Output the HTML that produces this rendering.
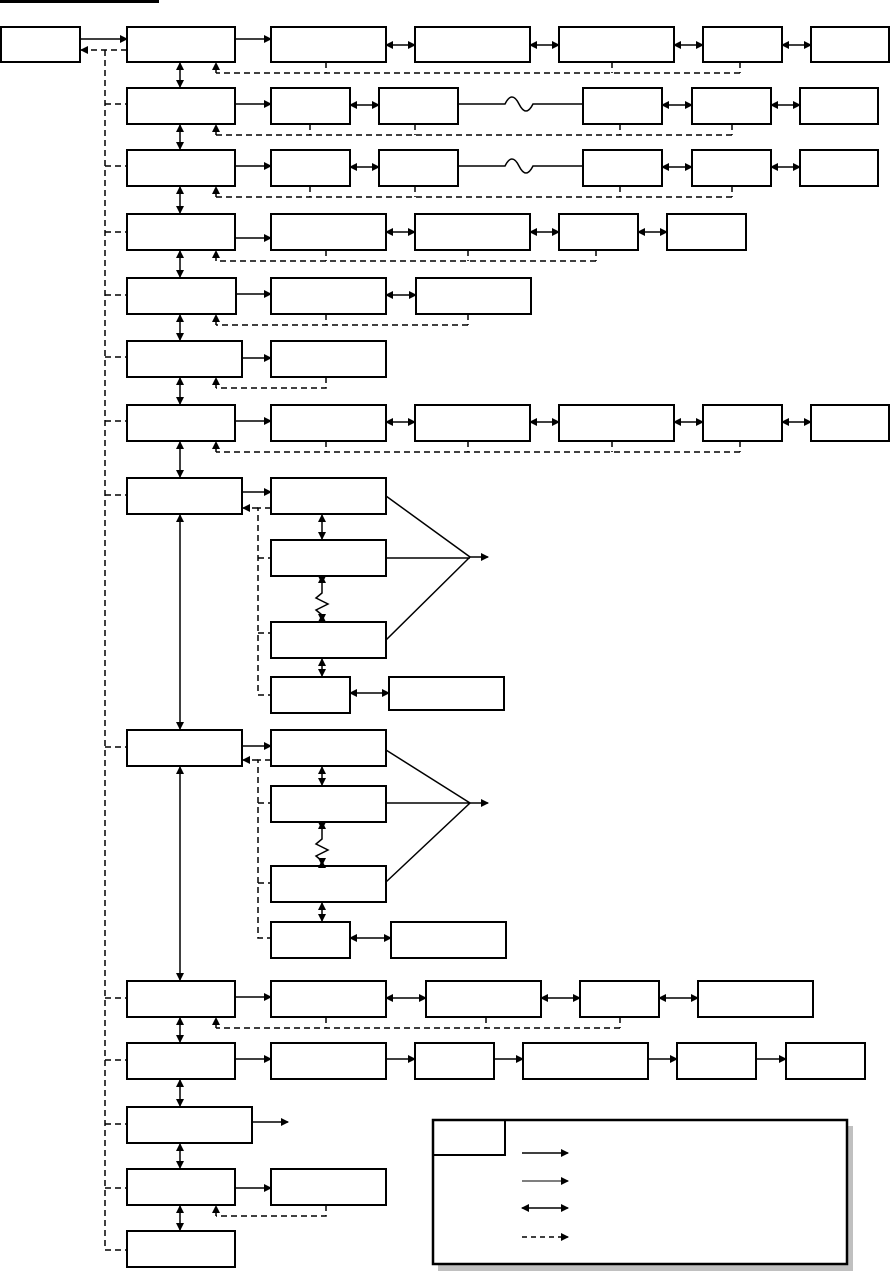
<!DOCTYPE html>
<html><head><meta charset="utf-8"><style>body{margin:0;background:#fff}svg{display:block}</style></head><body>
<svg width="891" height="1271" viewBox="0 0 891 1271" xmlns="http://www.w3.org/2000/svg">
<defs>
<marker id="a" markerWidth="8" markerHeight="8" refX="7" refY="4" orient="auto-start-reverse" markerUnits="userSpaceOnUse"><path d="M0,0 L8,4 L0,8z" fill="#000"/></marker>
</defs>
<rect x="0" y="0" width="159" height="3" fill="#000"/>
<g fill="none" stroke="#000" stroke-width="2">
<rect x="1" y="27" width="79" height="35"/>
<rect x="127" y="27" width="108" height="35"/><rect x="271" y="27" width="115" height="35"/><rect x="415" y="27" width="115" height="35"/><rect x="559" y="27" width="115" height="35"/><rect x="703" y="27" width="79" height="35"/><rect x="811" y="27" width="78" height="35"/>
<rect x="127" y="88" width="108" height="36"/><rect x="271" y="88" width="79" height="36"/><rect x="379" y="88" width="79" height="36"/><rect x="583" y="88" width="79" height="36"/><rect x="692" y="88" width="79" height="36"/><rect x="800" y="88" width="78" height="36"/>
<rect x="127" y="150" width="108" height="36"/><rect x="271" y="150" width="79" height="36"/><rect x="379" y="150" width="79" height="36"/><rect x="583" y="150" width="79" height="36"/><rect x="692" y="150" width="79" height="36"/><rect x="800" y="150" width="78" height="36"/>
<rect x="127" y="214" width="108" height="36"/><rect x="271" y="214" width="115" height="36"/><rect x="415" y="214" width="115" height="36"/><rect x="559" y="214" width="79" height="36"/><rect x="667" y="214" width="79" height="36"/>
<rect x="127" y="278" width="109" height="36"/><rect x="271" y="278" width="115" height="36"/><rect x="416" y="278" width="115" height="36"/>
<rect x="127" y="341" width="115" height="36"/><rect x="271" y="341" width="115" height="36"/>
<rect x="127" y="405" width="108" height="36"/><rect x="271" y="405" width="115" height="36"/><rect x="415" y="405" width="115" height="36"/><rect x="559" y="405" width="115" height="36"/><rect x="703" y="405" width="79" height="36"/><rect x="811" y="405" width="78" height="36"/>
<rect x="127" y="478" width="115" height="36"/><rect x="271" y="478" width="115" height="36"/><rect x="271" y="540" width="115" height="36"/><rect x="271" y="622" width="115" height="36"/><rect x="271" y="677" width="79" height="36"/><rect x="389" y="677" width="115" height="33"/>
<rect x="127" y="730" width="115" height="36"/><rect x="271" y="730" width="115" height="36"/><rect x="271" y="786" width="115" height="36"/><rect x="271" y="866" width="115" height="36"/><rect x="271" y="922" width="79" height="36"/><rect x="391" y="922" width="115" height="36"/>
<rect x="127" y="981" width="108" height="36"/><rect x="271" y="981" width="115" height="36"/><rect x="426" y="981" width="115" height="36"/><rect x="580" y="981" width="79" height="36"/><rect x="698" y="981" width="115" height="36"/>
<rect x="127" y="1043" width="108" height="36"/><rect x="271" y="1043" width="115" height="36"/><rect x="415" y="1043" width="79" height="36"/><rect x="523" y="1043" width="125" height="36"/><rect x="677" y="1043" width="79" height="36"/><rect x="786" y="1043" width="79" height="36"/>
<rect x="127" y="1107" width="125" height="36"/>
<rect x="127" y="1169" width="108" height="36"/><rect x="271" y="1169" width="115" height="36"/>
<rect x="127" y="1231" width="108" height="36"/>
</g>
<g stroke="#000" stroke-width="1.5" fill="none" marker-end="url(#a)">
<path d="M80 39H127"/><path d="M235 39H271"/><path d="M235 104H271"/><path d="M235 166H271"/><path d="M235 238H271"/><path d="M236 294H271"/><path d="M242 358H271"/><path d="M235 421H271"/>
<path d="M242 492H271"/><path d="M242 746H271"/><path d="M235 997H271"/><path d="M235 1059H271"/>
<path d="M386 1059H415"/><path d="M494 1059H523"/><path d="M648 1059H677"/><path d="M756 1059H786"/><path d="M252 1122H288"/><path d="M235 1188H271"/>
<path d="M470 557H488"/><path d="M470 803H488"/>
</g>
<g stroke="#000" stroke-width="1.5" fill="none">
<path d="M386 496L470 557L386 640M386 558H470"/><path d="M386 750L470 803L386 882M386 803H470"/>
<path d="M458 104H505 Q512 90 519 104 Q526 118 533 104 H583"/><path d="M458 166H505 Q512 152 519 166 Q526 180 533 166 H583"/>
<path d="M322 583 L322 593 L316 598 L328 604 L316 610 L322 615 L322 615"/><path d="M322 829 L322 839 L316 844 L328 850 L316 856 L322 861"/>
</g>
<g stroke="#000" stroke-width="1.5" fill="none" marker-start="url(#a)" marker-end="url(#a)">
<path d="M386 45H415"/><path d="M530 45H559"/><path d="M674 45H703"/><path d="M782 45H811"/>
<path d="M350 105H379"/><path d="M662 105H692"/><path d="M771 105H800"/>
<path d="M350 167H379"/><path d="M662 167H692"/><path d="M771 167H800"/>
<path d="M386 232H415"/><path d="M530 232H559"/><path d="M638 232H667"/><path d="M386 295H416"/>
<path d="M386 422H415"/><path d="M530 422H559"/><path d="M674 422H703"/><path d="M782 422H811"/>
<path d="M386 998H426"/><path d="M541 998H580"/><path d="M659 998H698"/>
<path d="M350 693H389"/><path d="M350 938H391"/>
<path d="M180 63V87"/><path d="M180 125V149"/><path d="M180 187V213"/><path d="M180 251V277"/><path d="M180 315V340"/><path d="M180 378V404"/><path d="M180 442V477"/><path d="M180 515V729"/><path d="M180 767V980"/><path d="M180 1018V1042"/><path d="M180 1080V1106"/><path d="M180 1144V1168"/><path d="M180 1206V1230"/>
<path d="M322 515V539"/><path d="M322 576V583"/><path d="M322 615V621"/><path d="M322 659V676"/>
<path d="M322 767V785"/><path d="M322 822V829"/><path d="M322 861V865"/><path d="M322 903V921"/>
</g>
<g stroke="#000" stroke-width="1.5" fill="none" stroke-dasharray="6,4">
<path d="M105 50V1250"/>
<path d="M105 104H127M105 166H127M105 232H127M105 295H127M105 357H127M105 421H127M105 495H127M105 747H127M105 998H127M105 1060H127M105 1124H127M105 1188H127M105 1250H127"/>
<path d="M326 62V73M612 62V73M740 62V73M740 73H216"/>
<path d="M310 124V135M415 124V135M620 124V135M732 124V135M732 135H216"/>
<path d="M310 186V197M415 186V197M620 186V197M732 186V197M732 197H216"/>
<path d="M326 250V261M468 250V261M596 250V261M596 261H216"/>
<path d="M326 314V325M468 314V325M468 325H216"/>
<path d="M326 377V388H216"/>
<path d="M326 441V452M468 441V452M612 441V452M740 441V452M740 452H216"/>
<path d="M326 1017V1028M486 1017V1028M620 1017V1028M620 1028H216"/>
<path d="M326 1205V1216H216"/>
<path d="M271 508H258V695H271M258 558H271M258 633H271"/>
<path d="M271 760H258V938H271M258 803H271M258 883H271"/>
</g>
<g stroke="#000" stroke-width="1.5" fill="none" stroke-dasharray="6,4" marker-end="url(#a)">
<path d="M127 50H81"/><path d="M216 73V63"/><path d="M216 135V125"/><path d="M216 197V187"/><path d="M216 261V251"/><path d="M216 325V315"/><path d="M216 388V378"/><path d="M216 452V442"/><path d="M216 1028V1018"/><path d="M216 1216V1206"/>
<path d="M258 508H243"/><path d="M258 760H243"/>
</g>
<rect x="438" y="1126" width="415" height="145" fill="#c0c0c0"/>
<rect x="433" y="1120" width="414" height="144" fill="#fff" stroke="#000" stroke-width="2.5"/>
<rect x="433" y="1120" width="72" height="35" fill="none" stroke="#000" stroke-width="2"/>
<g stroke="#000" stroke-width="1.5" fill="none" marker-end="url(#a)">
<path d="M522 1153H568"/><path d="M522 1181H568" stroke="#555"/><path d="M522 1208H568" marker-start="url(#a)"/>
<path d="M522 1237H568" stroke-dasharray="5,4"/>
</g>
</svg>
</body></html>
